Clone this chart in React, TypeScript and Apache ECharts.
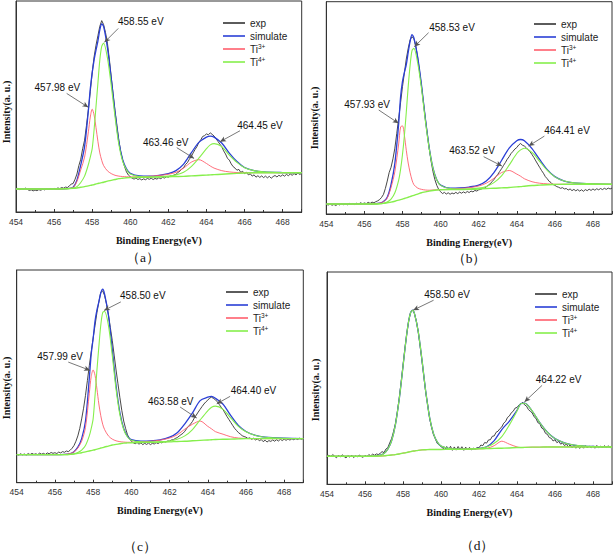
import React, { useEffect, useRef } from 'react';
import * as echarts from 'echarts';

// ---------------- DATA ----------------
const X_MIN = 454;
const X_MAX = 469;
const X_INTERVAL = 2;
const SERIES_NAMES = ['exp', 'simulate', 'Ti3+', 'Ti4+'];
const PANEL_TAGS = ['（a）', '（b）', '（c）', '（d）'];
const X_TITLE = 'Binding Energy(eV)';
const Y_TITLE = 'Intensity(a. u.)';

// experimental curve sampled every 0.1 eV from 454.0 to 469.0
const EXP_START = 454;
const EXP_STEP = 0.1;

// energies where the fitted curves were read
const FIT_X = [454, 455, 456, 456.5, 456.8, 457.0, 457.2, 457.4, 457.6, 457.8, 457.9, 458.0, 458.1, 458.2, 458.3, 458.4, 458.5, 458.6, 458.8, 459.0, 459.2, 459.4, 459.6, 459.8, 460.0, 460.5, 461.0, 461.5, 462.0, 462.4, 462.8, 463.2, 463.6, 464.0, 464.2, 464.4, 464.8, 465.2, 465.6, 466.0, 466.5, 467.0, 468.0, 469.0];

// ---- panel (a)
const A_EXP = [
  10.9, 11.2, 10.6, 11.0, 10.8, 11.3, 10.7, 10.2, 10.5, 10.0,
  10.4, 10.1, 10.6, 10.3, 10.8, 10.5, 11.0, 10.7, 11.1, 10.8,
  11.2, 10.9, 11.4, 11.1, 11.6, 11.3, 11.8, 11.6, 12.4, 13.2,
  13.5, 15.5, 18, 22, 25, 30, 34, 41, 48.5, 57,
  66, 73.5, 79, 83.5, 88, 90.7, 88.8, 85, 80, 72.5,
  64, 56, 48, 41, 34, 28.5, 24.5, 21.5, 19, 17.5,
  16.7, 16.0, 15.6, 16.1, 15.4, 15.8, 15.2, 15.7, 15.3, 15.9,
  15.5, 16.0, 15.4, 15.9, 15.6, 16.2, 15.8, 16.4, 16.1, 16.7,
  16.5, 17.1, 16.9, 17.6, 17.8, 18.8, 19.3, 20.4, 21, 22.5,
  23.4, 25, 26.2, 28, 29.6, 31, 33, 34.2, 35.8, 36.2,
  37.0, 36.6, 37.5, 36.8, 36.0, 34.8, 33.5, 32.2, 31, 29,
  27.5, 25.5, 24.6, 22.8, 21.5, 20.8, 19.8, 20.2, 18.8, 19.3,
  18.2, 18.8, 17.6, 18.1, 17.0, 17.6, 16.5, 17.2, 16.4, 17.1,
  16.3, 17.0, 16.2, 16.9, 16.0, 16.8, 17.3, 16.6, 17.4, 16.9,
  17.6, 17.0, 17.8, 17.2, 18.0, 17.4, 18.2, 17.6, 18.4, 17.8,
  18.3,
];
const A_SIM = [10.9, 10.9, 10.9, 11.0, 11.2, 11.7, 15.1, 22.3, 31, 48.1, 58.4, 65.9, 72, 76.7, 81, 86.3, 89.1, 87.9, 77.9, 63.2, 47, 33.2, 24.8, 20.5, 18.3, 17.1, 17, 17.4, 18.2, 19.6, 22.7, 28, 33, 35.5, 36, 35.5, 32.7, 27.9, 23.9, 21.1, 19.6, 19.0, 18.7, 18.6];
const A_TI3 = [10.9, 10.9, 10.9, 11.0, 11.2, 11.6, 14.5, 20, 26, 38, 45, 48.7, 46, 40, 33.5, 28, 24.5, 22, 19.5, 18.2, 17.4, 17.0, 16.8, 16.7, 16.6, 16.7, 16.9, 17.3, 17.9, 18.8, 20.8, 23.6, 24.8, 23.0, 21.8, 20.8, 19.6, 19.0, 18.7, 18.6, 18.6, 18.6, 18.6, 18.6];
const A_TI4 = [10.9, 10.9, 10.9, 11.0, 11.1, 11.3, 12, 14, 17, 22.5, 26, 30, 39, 50, 61, 72, 78.5, 80, 73, 60, 45, 32, 24, 20, 18, 16.8, 16.6, 16.7, 17.0, 17.6, 18.8, 21.5, 25.5, 30, 31.8, 32.4, 31, 27, 23.5, 21, 19.6, 19.0, 18.7, 18.6];
const A_BG = [10.9, 10.9, 10.9, 11.0, 11.1, 11.2, 11.4, 11.7, 12.0, 12.4, 12.6, 12.8, 13.0, 13.3, 13.5, 13.7, 13.9, 14.1, 14.6, 15.0, 15.4, 15.8, 16.0, 16.2, 16.3, 16.4, 16.5, 16.6, 16.7, 16.8, 16.9, 17.1, 17.3, 17.5, 17.6, 17.7, 17.9, 18.1, 18.3, 18.5, 18.6, 18.6, 18.6, 18.6];
const A_PEAKS = ['458.55 eV', '457.98 eV', '463.46 eV', '464.45 eV'];

// ---- panel (b)
const B_EXP = [
  4.6, 4.2, 4.8, 4.1, 4.5, 4.0, 4.6, 4.3, 4.9, 4.4,
  4.8, 4.3, 5.0, 4.6, 4.9, 4.5, 5.1, 4.7, 5.3, 4.8,
  5.2, 4.9, 5.5, 5.0, 5.6, 5.3, 5.8, 6.2, 6.8, 7.8,
  9.2, 12, 15.5, 19.5, 22, 26, 31, 38, 45, 52.5,
  60, 66.5, 73, 78, 82, 83.5, 82.5, 79, 73.5, 67,
  60, 52.5, 45, 38, 31, 25, 20, 16.2, 13.5, 11.6,
  10.5, 9.6, 10.2, 9.4, 10.0, 9.3, 9.9, 9.5, 10.2, 9.6,
  10.3, 9.8, 10.4, 9.9, 10.6, 10.1, 10.8, 10.4, 11.1, 10.8,
  11.4, 11.6, 12.0, 12.2, 12.8, 13.5, 14.2, 15.2, 16.2, 17.5,
  18.6, 20, 21.3, 22.8, 24.2, 25.8, 27, 28.5, 29.5, 30.6,
  31.3, 32.5, 33.2, 32.4, 32.0, 31.2, 30.2, 29.3, 28, 26.6,
  25, 23.5, 22, 20.5, 19.2, 17.6, 16.6, 15.4, 14.8, 13.9,
  13.5, 12.9, 12.6, 12.1, 12.4, 11.8, 12.0, 11.3, 11.8, 11.0,
  11.6, 10.9, 11.5, 10.8, 11.4, 10.7, 11.5, 11.0, 11.7, 11.1,
  11.8, 11.2, 11.9, 11.4, 12.0, 11.5, 12.1, 11.6, 12.2, 11.8,
  12.2,
];
const B_SIM = [4.7, 4.7, 4.7, 4.8, 5.1, 5.9, 7.9, 13.9, 24, 42.5, 55.2, 62.5, 66.7, 70.4, 76.1, 81.3, 84.5, 83, 73.8, 60.6, 44.9, 31.4, 21.7, 16.1, 13.6, 12.2, 12.3, 12.7, 13.6, 15.5, 19.5, 25.2, 31, 34.5, 35.1, 34.5, 30.8, 25.7, 20.9, 17.6, 15.5, 14.7, 14.2, 14.0];
const B_TI3 = [4.7, 4.7, 4.7, 4.8, 5.1, 5.8, 7.5, 12.5, 20, 33, 41, 41.5, 37, 30, 24, 19.5, 16, 13.8, 12.2, 11.6, 11.3, 11.2, 11.3, 11.4, 11.5, 11.7, 12.0, 12.4, 13.2, 14.5, 16.8, 19.5, 20.5, 18.8, 17.8, 16.6, 15.2, 14.5, 14.2, 14.0, 14.0, 14.0, 14.0, 14.0];
const B_TI4 = [4.7, 4.7, 4.7, 4.7, 4.8, 5.1, 5.7, 7.0, 10, 16, 21, 28, 37, 48, 60, 70, 77, 78, 71, 59, 44, 31, 21.5, 16, 13.5, 12.0, 11.8, 11.9, 12.2, 13.0, 14.8, 18, 23, 28.5, 30.2, 31, 29, 24.8, 20.5, 17.5, 15.5, 14.7, 14.2, 14.0];
const B_BG = [4.7, 4.7, 4.7, 4.7, 4.8, 5.0, 5.3, 5.6, 6.0, 6.5, 6.8, 7.0, 7.3, 7.6, 7.9, 8.2, 8.5, 8.8, 9.4, 10.0, 10.4, 10.8, 11.1, 11.3, 11.4, 11.5, 11.5, 11.6, 11.8, 12.0, 12.1, 12.3, 12.5, 12.8, 12.9, 13.1, 13.4, 13.6, 13.8, 13.9, 14.0, 14.0, 14.0, 14.0];
const B_PEAKS = ['458.53 eV', '457.93 eV', '463.52 eV', '464.41 eV'];

// ---- panel (c)
const C_EXP = [
  13.4, 13.0, 13.6, 13.1, 13.5, 13.0, 13.7, 13.2, 13.8, 13.3,
  13.6, 13.2, 13.9, 13.4, 13.8, 13.3, 14.0, 13.6, 14.2, 13.8,
  14.1, 13.7, 14.4, 14.0, 14.6, 14.3, 14.9, 14.6, 15.3, 16.2,
  17.5, 19.5, 22, 25.5, 30, 35, 41, 48, 55, 61.5,
  68, 74, 80, 85, 89.5, 90.2, 88, 84, 79, 73,
  67, 60, 53, 46.5, 40, 34, 29, 25.5, 22.5, 20.8,
  19.5, 18.8, 18.3, 18.9, 18.1, 18.7, 17.9, 18.5, 18.0, 18.6,
  17.9, 18.5, 18.2, 18.8, 18.4, 19.0, 18.7, 19.3, 19.1, 19.6,
  19.6, 20.1, 20.2, 20.8, 21.2, 21.9, 22.6, 23.2, 24.2, 25.5,
  26.6, 27.6, 28.8, 30.5, 31.8, 33.2, 34.5, 35.8, 37, 38,
  38.8, 39.8, 40.2, 39.6, 39.0, 38.0, 36.8, 35.5, 34.3, 32.8,
  31.2, 29.8, 28.4, 27.0, 25.6, 24.6, 23.6, 22.9, 22.1, 21.7,
  21.4, 20.8, 21.1, 20.4, 20.9, 20.1, 20.6, 19.7, 20.3, 19.3,
  20.0, 19.1, 19.8, 19.4, 20.1, 19.5, 20.2, 19.6, 20.4, 19.8,
  20.5, 19.9, 20.6, 20.0, 20.7, 20.2, 20.8, 20.3, 20.9, 20.5,
  20.8,
];
const C_SIM = [13.2, 13.2, 13.2, 13.3, 13.7, 14.6, 16.7, 20.7, 29, 49.1, 60.4, 67.7, 76, 81.2, 85, 89.2, 91, 88.7, 78.8, 62.8, 45.7, 33, 25.5, 21.8, 20.2, 19.5, 19.6, 20.1, 21.4, 23.5, 27.7, 32.8, 38.6, 40.2, 40.6, 39.7, 36.9, 31.6, 26.9, 24.1, 22.2, 21.4, 20.9, 20.7];
const C_TI3 = [13.2, 13.2, 13.2, 13.3, 13.7, 14.5, 16.3, 19.5, 26, 42, 50, 53, 50.5, 44, 37, 31.5, 27.5, 25, 22, 20.5, 19.7, 19.3, 19.1, 19.0, 19.0, 19.2, 19.5, 20.0, 21.0, 22.5, 25.2, 27.5, 29.0, 26.5, 25.3, 24.0, 22.8, 21.6, 21.0, 20.8, 20.7, 20.7, 20.7, 20.7];
const C_TI4 = [13.2, 13.2, 13.2, 13.2, 13.3, 13.6, 14.2, 15.3, 17.5, 22, 25.5, 30, 41, 53, 64, 74, 80, 80.5, 74, 60, 44, 32, 25, 21.5, 20, 19.2, 19.1, 19.2, 19.6, 20.4, 22, 25, 29.5, 33.8, 35.5, 36, 34.5, 30.5, 26.5, 24, 22.2, 21.4, 20.9, 20.7];
const C_BG = [13.2, 13.2, 13.2, 13.2, 13.3, 13.5, 13.8, 14.1, 14.5, 14.9, 15.1, 15.3, 15.5, 15.8, 16.0, 16.3, 16.5, 16.8, 17.2, 17.7, 18.0, 18.3, 18.6, 18.7, 18.8, 18.9, 19.0, 19.1, 19.2, 19.4, 19.5, 19.7, 19.9, 20.1, 20.2, 20.3, 20.4, 20.5, 20.6, 20.7, 20.7, 20.7, 20.7, 20.7];
const C_PEAKS = ['458.50 eV', '457.99 eV', '463.58 eV', '464.40 eV'];

// ---- panel (d)
const D_EXP = [
  12.6, 13.8, 13.0, 14.0, 13.2, 12.5, 13.6, 12.9, 13.9, 13.1,
  12.4, 13.5, 12.8, 13.7, 12.6, 13.4, 12.9, 13.8, 13.1, 12.7,
  13.6, 13.0, 14.0, 13.4, 14.2, 13.7, 14.3, 14.0, 14.6, 15.4,
  14.9, 16.6, 17.2, 19.5, 21.5, 24.8, 28.5, 34, 40.5, 48,
  56, 64, 71, 77, 81, 82, 80.5, 77, 72, 65,
  58, 50.5, 43, 37.5, 31, 27, 23.5, 21.5, 19.3, 18.6,
  17.8, 17.0, 16.3, 17.8, 16.2, 17.9, 16.0, 17.6, 16.1, 17.8,
  16.4, 17.7, 16.0, 17.5, 16.3, 17.4, 16.2, 17.0, 16.6, 17.3,
  17.2, 18.5, 18.2, 19.7, 19.4, 20.9, 21.0, 22.6, 22.8, 24.5,
  25.0, 26.2, 27.0, 28.8, 29.6, 31.5, 32.2, 33.7, 34.4, 35.9,
  36.2, 37.3, 37.8, 38.6, 37.4, 36.8, 35.2, 34.4, 33.6, 31.8,
  31.0, 29.0, 28.6, 26.5, 25.9, 24.0, 23.5, 22.0, 21.7, 20.4,
  21.0, 19.6, 20.2, 18.9, 19.5, 18.2, 19.0, 17.6, 18.6, 17.2,
  18.3, 17.0, 18.1, 16.9, 17.9, 17.0, 18.2, 17.1, 18.0, 17.2,
  18.1, 17.0, 18.3, 17.3, 18.0, 17.1, 18.2, 17.4, 18.1, 17.3,
  18.0,
];
const D_SIM = [13.2, 13.2, 13.2, 13.3, 13.7, 14.5, 16.5, 20.5, 28, 40, 47.5, 55.5, 63.5, 71, 77, 80.8, 82, 80.5, 72, 58.5, 43.5, 31.5, 24, 20, 18, 16.7, 16.5, 16.6, 16.9, 17.7, 20.6, 25.8, 29.8, 34.8, 38, 38.2, 34.5, 29, 24.5, 21.5, 19.5, 18.5, 17.8, 17.6];
const D_TI3 = [13.2, 13.2, 13.2, 13.2, 13.3, 13.4, 13.6, 13.8, 14.0, 14.3, 14.5, 14.7, 14.8, 15.0, 15.2, 15.4, 15.6, 15.7, 16.0, 16.2, 16.3, 16.4, 16.4, 16.4, 16.4, 16.5, 16.5, 16.6, 16.7, 16.9, 18.2, 20.3, 18.9, 17.6, 17.3, 17.4, 17.5, 17.5, 17.6, 17.6, 17.6, 17.6, 17.6, 17.6];
const D_TI4 = [13.2, 13.2, 13.2, 13.3, 13.7, 14.5, 16.5, 20.5, 28, 40, 47.5, 55.5, 63.5, 71, 77, 80.8, 82, 80.5, 72, 58.5, 43.5, 31.5, 24, 20, 18, 16.7, 16.5, 16.6, 16.9, 17.6, 19.3, 22.5, 28, 34.5, 38, 38.2, 34.5, 29, 24.5, 21.5, 19.5, 18.5, 17.8, 17.6];
const D_BG = [13.2, 13.2, 13.2, 13.2, 13.3, 13.4, 13.6, 13.8, 14.0, 14.3, 14.5, 14.7, 14.8, 15.0, 15.2, 15.4, 15.6, 15.7, 16.0, 16.2, 16.3, 16.4, 16.4, 16.4, 16.4, 16.5, 16.5, 16.6, 16.7, 16.8, 16.9, 17.0, 17.1, 17.3, 17.3, 17.4, 17.5, 17.5, 17.6, 17.6, 17.6, 17.6, 17.6, 17.6];
const D_PEAKS = ['458.50 eV', '464.22 eV'];

// ---------------- LAYOUT / STYLE ----------------
const COLORS = { exp: '#333333', sim: '#2a3fd6', ti3: '#ff5f6d', ti4: '#86ef4c', frame: '#333333' };
const GRIDS = [
  { left: 16, top: 1, width: 285.7, height: 211 },
  { left: 326.3, top: 1.7, width: 285.7, height: 212.3 },
  { left: 16.7, top: 270, width: 286.6, height: 212.7 },
  { left: 327, top: 272, width: 285, height: 212.3 },
];
const LEGEND_POS = [
  { left: 223, top: 17 },
  { left: 534, top: 18 },
  { left: 226, top: 286 },
  { left: 535, top: 288 },
];
const TAG_POS = [[143, 257], [469, 258], [140, 546], [477, 545]];
const YTITLE_POS = [[6, 112], [314.5, 118], [6.3, 388], [315.3, 390]];
// annotation layout in data coordinates: label centre, arrow tail, arrow tip
const ANNOT_LAYOUT = [
  [
    { text: [460.55, 90.5], from: [459.37, 87], to: [458.64, 80.4] },
    { text: [456.17, 58.8], from: [456.66, 56.2], to: [457.8, 49.6] },
    { text: [461.86, 33], from: [462.44, 30.5], to: [463.35, 25.4] },
    { text: [466.81, 41.1], from: [465.76, 38.5], to: [464.71, 33.3] },
  ],
  [
    { text: [460.6, 87.9], from: [459.37, 85.4], to: [458.62, 78.8] },
    { text: [456.14, 51.8], from: [456.75, 49], to: [457.8, 42.7] },
    { text: [461.65, 29.8], from: [462.26, 27], to: [463.22, 22.6] },
    { text: [466.64, 39.4], from: [465.45, 36.7], to: [464.62, 32] },
  ],
  [
    { text: [460.6, 88.2], from: [459.45, 85], to: [458.57, 81] },
    { text: [456.27, 59.1], from: [456.7, 56.7], to: [457.84, 52.8] },
    { text: [462.06, 38.4], from: [462.55, 35.6], to: [463.42, 30.4] },
    { text: [466.39, 43.3], from: [465.17, 40.6], to: [464.47, 37.1] },
  ],
  [
    { text: [460.32, 89.2], from: [459.61, 86.7], to: [458.53, 82] },
    { text: [466.19, 49.3], from: [465.32, 46.6], to: [464.39, 38.8] },
  ],
];

const PANELS = [
  { exp: A_EXP, sim: A_SIM, ti3: A_TI3, ti4: A_TI4, bg: A_BG, peaks: A_PEAKS },
  { exp: B_EXP, sim: B_SIM, ti3: B_TI3, ti4: B_TI4, bg: B_BG, peaks: B_PEAKS },
  { exp: C_EXP, sim: C_SIM, ti3: C_TI3, ti4: C_TI4, bg: C_BG, peaks: C_PEAKS },
  { exp: D_EXP, sim: D_SIM, ti3: D_TI3, ti4: D_TI4, bg: D_BG, peaks: D_PEAKS },
];

const SANS = "'Liberation Sans', Arial, sans-serif";
const SERIF = "'Liberation Serif', 'Times New Roman', serif";

function buildOption() {
  const expX = A_EXP.map((_, k) => Math.round((EXP_START + k * EXP_STEP) * 10) / 10);
  const fitPairs = (ys: number[]) => ys.map((y, k) => [FIT_X[k], y]);

  const grid: any[] = [];
  const xAxis: any[] = [];
  const yAxis: any[] = [];
  const legend: any[] = [];
  const series: any[] = [];
  const graphic: any[] = [];

  PANELS.forEach((p, i) => {
    grid.push({ ...GRIDS[i], show: true, borderColor: COLORS.frame, borderWidth: 1, backgroundColor: 'transparent' });
    xAxis.push({
      type: 'value', gridIndex: i, min: X_MIN, max: X_MAX, interval: X_INTERVAL,
      axisLine: { show: true, lineStyle: { color: COLORS.frame, width: 1 } },
      axisTick: { show: true, inside: true, length: 3, lineStyle: { color: COLORS.frame } },
      minorTick: { show: true, splitNumber: 2, length: 2, lineStyle: { color: COLORS.frame } },
      splitLine: { show: false }, minorSplitLine: { show: false },
      axisLabel: { fontSize: 8.5, color: '#333', margin: 5, showMaxLabel: false, fontFamily: SANS },
      name: X_TITLE, nameLocation: 'middle', nameGap: 23,
      nameTextStyle: { fontFamily: SERIF, fontWeight: 'bold', fontSize: 10, color: '#111' },
    });
    yAxis.push({
      type: 'value', gridIndex: i, min: 0, max: 100,
      axisLine: { show: true, lineStyle: { color: COLORS.frame } },
      axisTick: { show: false }, axisLabel: { show: false }, splitLine: { show: false },
    });
    legend.push({
      orient: 'vertical', ...LEGEND_POS[i], padding: 0, data: SERIES_NAMES, icon: 'rect',
      itemWidth: 22, itemHeight: 1.6, itemGap: 1, selectedMode: false,
      formatter: (n: string) => (n.startsWith('Ti') ? `Ti{s|${n.slice(2)}}` : n),
      textStyle: {
        fontSize: 10, color: '#222', fontFamily: SANS, lineHeight: 12,
        rich: { s: { fontSize: 6.5, lineHeight: 7, verticalAlign: 'top', color: '#222', fontFamily: SANS } },
      },
    });
    const common = { xAxisIndex: i, yAxisIndex: i, symbol: 'none', showSymbol: false, silent: true };
    series.push({
      ...common, type: 'line', name: 'exp', data: p.exp.map((y, k) => [expX[k], y]),
      lineStyle: { color: COLORS.exp, width: 0.9 }, itemStyle: { color: COLORS.exp }, z: 2,
    });
    series.push({
      ...common, type: 'line', name: 'simulate', data: fitPairs(p.sim), smooth: 0.3,
      lineStyle: { color: COLORS.sim, width: 1.3 }, itemStyle: { color: COLORS.sim }, z: 3,
    });
    series.push({
      ...common, type: 'line', name: 'Ti3+', data: fitPairs(p.ti3), smooth: 0.3,
      lineStyle: { color: COLORS.ti3, width: 0.9 }, itemStyle: { color: COLORS.ti3 }, z: 4,
    });
    series.push({
      ...common, type: 'line', name: 'background', data: fitPairs(p.bg), smooth: 0.3,
      lineStyle: { color: COLORS.ti4, width: 1.4 }, itemStyle: { color: COLORS.ti4 }, z: 5,
    });
    const ann = ANNOT_LAYOUT[i];
    series.push({
      ...common, type: 'line', name: 'Ti4+', data: fitPairs(p.ti4), smooth: 0.3,
      lineStyle: { color: COLORS.ti4, width: 1.1 }, itemStyle: { color: COLORS.ti4 }, z: 6,
      markLine: {
        silent: true, symbol: ['none', 'arrow'], symbolSize: [4, 6], animation: false,
        lineStyle: { color: '#555', width: 0.8, type: 'solid' }, label: { show: false },
        emphasis: { disabled: true },
        data: ann.map((a) => [{ coord: a.from }, { coord: a.to }]),
      },
      markPoint: {
        silent: true, symbol: 'circle', symbolSize: 1, animation: false,
        itemStyle: { color: 'rgba(0,0,0,0)' },
        label: { show: true, position: 'inside', formatter: '{b}', fontSize: 10, color: '#111', fontFamily: SANS },
        data: ann.map((a, j) => ({ name: p.peaks[j], coord: a.text })),
      },
    });
    graphic.push({
      type: 'text', x: TAG_POS[i][0], y: TAG_POS[i][1],
      style: { text: PANEL_TAGS[i], font: `13.5px ${SERIF}`, fill: '#111', textAlign: 'center', textVerticalAlign: 'middle' },
    });
    graphic.push({
      type: 'text', x: YTITLE_POS[i][0], y: YTITLE_POS[i][1], rotation: Math.PI / 2,
      style: { text: Y_TITLE, font: `bold 10px ${SERIF}`, fill: '#111', textAlign: 'center', textVerticalAlign: 'middle' },
    });
  });

  return { animation: false, backgroundColor: '#ffffff', grid, xAxis, yAxis, legend, series, graphic };
}

export default function App() {
  const ref = useRef<HTMLDivElement>(null);
  useEffect(() => {
    if (!ref.current) return;
    const chart = echarts.init(ref.current, null, { renderer: 'svg' });
    chart.setOption(buildOption());
    return () => chart.dispose();
  }, []);
  return <div ref={ref} style={{ position: 'fixed', left: 0, top: 0, width: 614, height: 554, background: '#fff' }} />;
}
